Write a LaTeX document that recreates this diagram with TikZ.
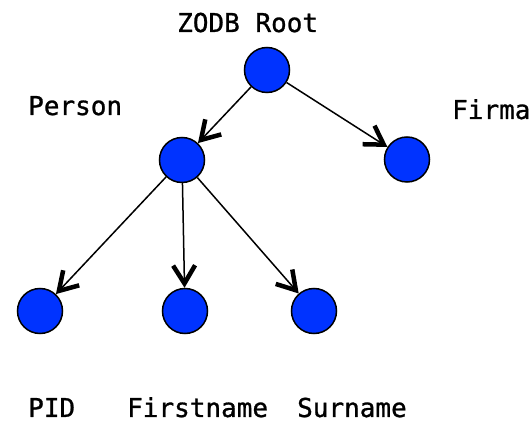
\documentclass[tikz,border=0pt]{standalone}
\usepackage{fontspec}
\setmonofont[FakeBold=1]{DejaVu Sans Mono}
\usetikzlibrary{arrows.meta}
\definecolor{nodeblue}{RGB}{0,51,255}
\tikzset{
  obj/.style={circle, draw=black, line width=1.5pt, fill=nodeblue, minimum size=45pt, inner sep=0pt},
  lbl/.style={anchor=base west, inner sep=0pt, font=\fontsize{26}{30}\selectfont\ttfamily},
  ref/.style={line width=1.5pt, -{Straight Barb[length=18pt, width=22pt, line width=4.5pt]}}
}
\begin{document}
\begin{tikzpicture}[x=1pt, y=-1pt]
  \useasboundingbox (0,0) rectangle (531,422);
  % object nodes
  \node[obj] (root) at (267,70) {};
  \node[obj] (person) at (182,160) {};
  \node[obj] (firma) at (407,159.5) {};
  \node[obj] (pid) at (40,311) {};
  \node[obj] (first) at (185,311) {};
  \node[obj] (sur) at (314,311) {};
  % labels
  \node[lbl] (lroot) at (177,32) {ZODB Root};
  \node[lbl] (lperson) at (28,115) {Person};
  \node[lbl] (lfirma) at (452,119) {Firma};
  \node[lbl] (lpid) at (28,417) {PID};
  \node[lbl] (lfirst) at (127,417) {Firstname};
  \node[lbl] (lsur) at (297,417) {Surname};
  % references
  \draw[ref] (root) -- (person);
  \draw[ref] (root) -- (firma);
  \draw[ref] (person) -- (pid);
  \draw[ref] (person) -- (first);
  \draw[ref] (person) -- (sur);
\end{tikzpicture}
\end{document}
